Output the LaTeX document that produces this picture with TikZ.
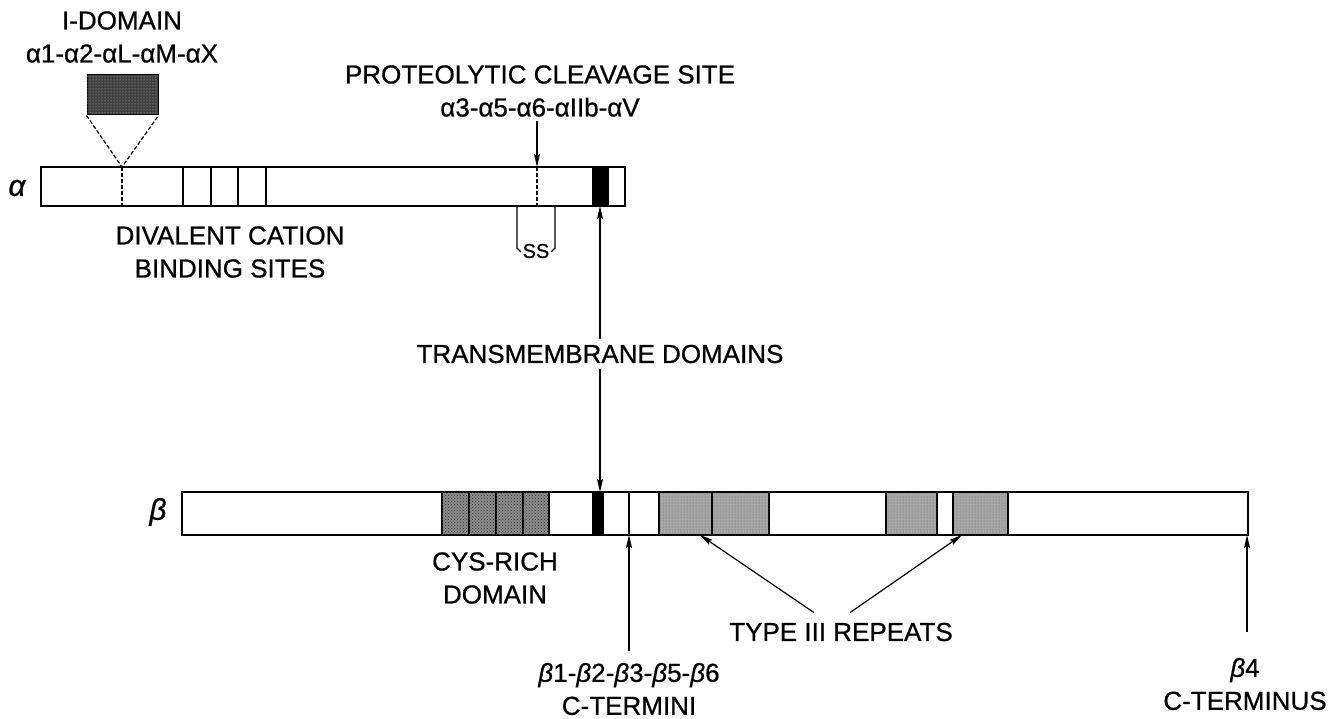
\documentclass[tikz,border=0pt]{standalone}
\usepackage{fontspec}
\setmainfont{Liberation Sans}[FakeBold=0.7]
\usetikzlibrary{arrows.meta,calc,patterns}
\begin{document}
\begin{tikzpicture}[x=1pt,y=-1pt,
  lbl/.style={font=\fontsize{26}{33}\selectfont, align=center, inner sep=0pt},
  chainlbl/.style={font=\fontsize{30}{30}\selectfont\itshape, inner sep=0pt},
  bar/.style={draw=black, line width=1.5pt, fill=white},
  seg/.style={draw=black, line width=1.3pt},
  arr/.style={line width=1.2pt, -{Stealth[length=13pt,width=6pt,inset=2pt]}},
  tmbox/.style={fill=black, draw=black, line width=1.3pt},
  cysbox/.style={fill=black!45, draw=black, line width=1.3pt,
    postaction={pattern=crosshatch dots, pattern color=black!80}},
  repbox/.style={fill=black!35, draw=black, line width=1.3pt,
    postaction={pattern=dots, pattern color=black!60}},
  idbox/.style={fill=black!75, draw=black, line width=1pt, inner sep=0pt,
    postaction={pattern=dots, pattern color=white!80!black}},
  cutline/.style={line width=1.2pt, dash pattern=on 4pt off 2pt},
]
\useasboundingbox (0,0) rectangle (1340,719);
\fill[white] (0,0) rectangle (1340,719);

% ---------- alpha chain ----------
\draw[bar] (41,167) rectangle (625,206);
\foreach \x in {183,211,238,266} \draw[seg] (\x,167) -- (\x,206);
\draw[tmbox] (593,167) rectangle (608,206);
\draw[cutline] (122,167) -- (122,206);
\draw[cutline] (537,167) -- (537,206);
\node[chainlbl] (alab) at (17,188) {α};

% I-domain insert
\node[idbox, minimum width=71pt, minimum height=40pt] (ibox) at (122.5,95) {};
\coordinate (ipt) at (122,167);
\draw[cutline] (ibox.south west) -- (ipt) -- (ibox.south east);
\node[lbl] (idom) at (122,37) {I-DOMAIN\\α1-α2-αL-αM-αX};

% proteolytic cleavage
\coordinate (cleave) at (537,167);
\node[lbl] (prot) at (540,91) {PROTEOLYTIC CLEAVAGE SITE\\α3-α5-α6-αIIb-αV};
\draw[arr, shorten <=4pt] (prot.south -| cleave) -- (cleave);

% S-S bracket
\draw[line width=1.2pt] (517,206) -- (517,248) -- (521,252);
\draw[line width=1.2pt] (555,206) -- (555,248) -- (551,252);
\node[font=\fontsize{20}{22}\selectfont, inner sep=0pt] (ss) at (536,251) {SS};

\node[lbl] (dival) at (230,252) {DIVALENT CATION\\BINDING SITES};

% ---------- transmembrane ----------
\coordinate (tmA) at (600,206);
\coordinate (tmB) at (600,492);
\node[lbl] (tmlbl) at (600,354) {TRANSMEMBRANE DOMAINS};
\draw[arr, shorten <=6pt] (tmlbl.north) -- (tmA);
\draw[arr, shorten <=6pt] (tmlbl.south) -- (tmB);

% ---------- beta chain ----------
\draw[bar] (182,492) rectangle (1248,535);
\foreach \a/\b in {442/469,469/496,496/523,523/549} \draw[cysbox] (\a,492) rectangle (\b,535);
\draw[tmbox] (593,492) rectangle (603,535);
\draw[seg] (629,492) -- (629,535);
\foreach \a/\b in {659/712,712/769,886/937,953/1008} \draw[repbox] (\a,492) rectangle (\b,535);
\node[chainlbl] (blab) at (158,512) {β};

\node[lbl] (cys) at (495,578) {CYS-RICH\\DOMAIN};

% C-termini
\coordinate (ct) at (629,535);
\node[lbl] (cterm) at (629,689) {\textit{β}1-\textit{β}2-\textit{β}3-\textit{β}5-\textit{β}6\\C-TERMINI};
\draw[arr, shorten <=12pt] (cterm.north) -- (ct);

% type III repeats
\coordinate (r1) at (700,535);
\coordinate (r2) at (962,535);
\node[lbl] (rep) at (841,632) {TYPE III REPEATS};
\draw[arr] ($(rep.north)+(-27,-10)$) -- (r1);
\draw[arr] ($(rep.north)+(9,-10)$) -- (r2);

% beta4 C-terminus
\coordinate (b4pt) at (1247,535);
\node[lbl] (b4) at (1245,684) {\textit{β}4\\C-TERMINUS};
\draw[arr, shorten <=26pt] (b4.north -| b4pt) -- (b4pt);
\end{tikzpicture}
\end{document}
